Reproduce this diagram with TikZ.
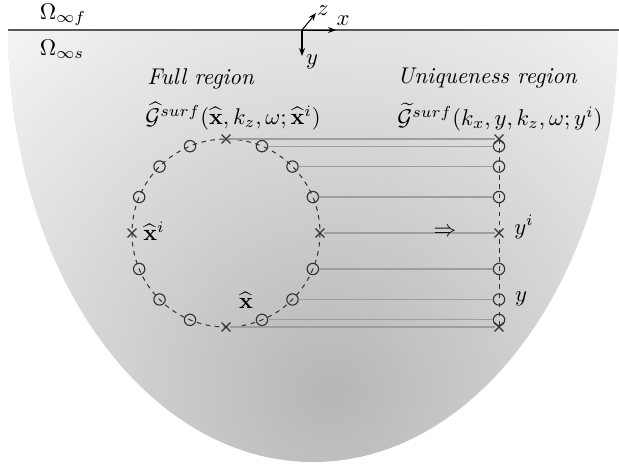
\documentclass[tikz,border=0pt]{standalone}
\usetikzlibrary{arrows.meta,shapes.misc}
\begin{document}
\begin{tikzpicture}[x=0.44pt,y=-0.44pt,
  mk/.style={draw=black!80, line width=0.5pt},
  omark/.style={mk, circle, minimum size=5pt, inner sep=0pt},
  xmark/.style={mk, cross out, minimum size=3.4pt, inner sep=0pt},
  guide/.style={draw=black!38, line width=0.5pt},
  dashline/.style={mk, line width=0.45pt, dash pattern=on 2pt off 2pt},
  lbl/.style={inner sep=0pt},
  ax/.style={-{Stealth[length=3.5pt,width=2.6pt]}, line width=0.45pt}]
\useasboundingbox (0,0) rectangle (619,466);
% shaded half space
\begin{scope}
\clip (8,30) arc[start angle=180,end angle=0,x radius=305,y radius=432] -- cycle;
\fill[white] (0,0) rectangle (619,466);
\shade[inner color={rgb,255:red,182;green,182;blue,182}, outer color={rgb,255:red,244;green,244;blue,244}] (330,390) circle (480);
\end{scope}
% free surface
\coordinate (sl) at (8,30);
\coordinate (sr) at (619,30);
\draw[black!65, line width=0.5pt] (sl) -- (sr);
\node[lbl] (of) at (63,15) {$\Omega_{\infty f}$};
\node[lbl] (os) at (62,49) {$\Omega_{\infty s}$};
% axes
\coordinate (O) at (302,30);
\coordinate (xe) at (336,30);
\coordinate (ze) at (316,13);
\coordinate (ye) at (302,56);
\draw[ax] (O) -- (xe);
\draw[ax] (O) -- (ze);
\draw[ax] (O) -- (ye);
\node[lbl] (xl) at (343,21) {$x$};
\node[lbl] (zl) at (323,11) {$z$};
\node[lbl] (yl) at (312,62) {$y$};
% titles
\node[lbl, anchor=west] (fr) at (147,79) {\textit{Full region}};
\node[lbl, anchor=west] (fg) at (145,116) {$\widehat{\mathcal{G}}^{surf}(\widehat{\mathbf{x}},k_z,\omega;\widehat{\mathbf{x}}^i)$};
\node[lbl, anchor=west] (ur) at (397,78) {\textit{Uniqueness region}};
\node[lbl, anchor=west] (ug) at (397,117) {$\widetilde{\mathcal{G}}^{surf}(k_x,y,k_z,\omega;y^i)$};
% dashed circle
\draw[dashline] (226,233) circle (94);
% markers on circle
\foreach \k in {0,...,15} {
  \pgfmathsetmacro\px{226+94*cos(\k*22.5)}
  \pgfmathsetmacro\py{233-94*sin(\k*22.5)}
  \pgfmathtruncatemacro\isx{mod(\k,4)==0}
  \ifnum\isx=1
    \node[xmark] (L\k) at (\px,\py) {};
  \else
    \node[omark] (L\k) at (\px,\py) {};
  \fi
}
% markers on the vertical line
\foreach \k in {12,13,14,15,0,1,2,3,4} {
  \pgfmathsetmacro\py{233-94*sin(\k*22.5)}
  \pgfmathtruncatemacro\isx{mod(\k,4)==0}
  \ifnum\isx=1
    \node[xmark] (R\k) at (499,\py) {};
  \else
    \node[omark] (R\k) at (499,\py) {};
  \fi
}
\draw[dashline] (R4.center) -- (R12.center);
\foreach \k in {12,13,14,15,0,1,2,3,4} {
  \draw[guide] (L\k.east) -- (R\k.west);
}
% labels
\node[lbl] (xil) at (154,231) {$\widehat{\mathbf{x}}^i$};
\node[lbl] (xhl) at (246,300) {$\widehat{\mathbf{x}}$};
\node[lbl] (yil) at (524,227) {$y^i$};
\node[lbl] (yl2) at (521,299) {$y$};
\node[lbl] (arr) at (445,232) {$\Rightarrow$};
\end{tikzpicture}
\end{document}
